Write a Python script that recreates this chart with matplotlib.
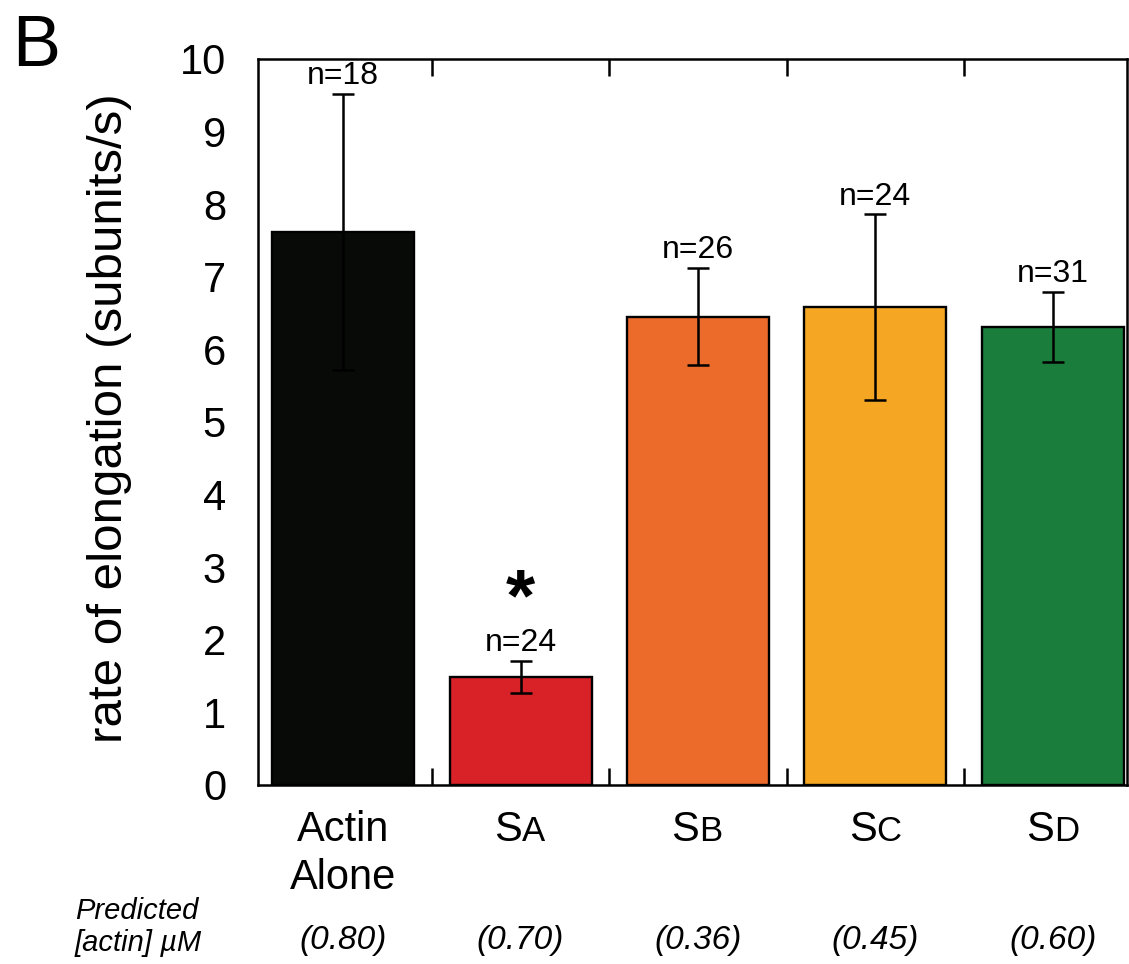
import matplotlib.pyplot as plt
import numpy as np

plt.rcParams['font.family'] = ['Liberation Sans', 'DejaVu Sans']
plt.rcParams['mathtext.fontset'] = 'custom'
plt.rcParams['mathtext.bf'] = 'Liberation Sans:bold'

label_main = ['Actin\nAlone', 'S', 'S', 'S', 'S']
label_small = ['', 'A', 'B', 'C', 'D']
rates = [7.62, 1.49, 6.45, 6.58, 6.31]
errors = [1.90, 0.22, 0.67, 1.28, 0.48]
n_counts = [18, 24, 26, 24, 31]
predicted = ['(0.80)', '(0.70)', '(0.36)', '(0.45)', '(0.60)']
colors = ['#080a08', '#d92128', '#ec6a2a', '#f5a623', '#1b7d3c']

fig = plt.figure(figsize=(11.29, 9.64), dpi=100)
ax = fig.add_axes([0.2285, 0.1857, 0.7695, 0.7531])

x = np.arange(len(rates))
ax.bar(x, rates, width=0.8, color=colors, edgecolor='black', linewidth=1.7, zorder=2)
ax.errorbar(x, rates, yerr=errors, fmt='none', ecolor='black', elinewidth=1.8,
            capsize=8, capthick=1.8, zorder=3)

for i in range(len(rates)):
    ax.annotate(f'n={n_counts[i]}', (x[i], rates[i] + errors[i]), xytext=(0, 2),
                textcoords='offset points', ha='center', va='bottom', fontsize=23)
# significance mark over SA
ax.annotate(r'$\mathbf{*}$', (x[1], rates[1] + errors[1]), xytext=(0, 44),
            textcoords='offset points', ha='center', va='center', fontsize=54)

ax.set_xlim(-0.48, 4.417)
ax.set_ylim(0, 10)

ax.set_yticks(np.arange(0, 11))
ax.set_yticklabels([str(v) for v in range(11)], fontsize=30)
ax.set_yticks([2, 4, 6, 8], minor=True)
ax.set_xticks(x)
ax.set_xticklabels([])
ax.set_xticks(x[:-1] + 0.5, minor=True)
ax.tick_params(axis='y', which='major', length=0, pad=23)
ax.tick_params(axis='x', which='major', length=0)
ax.tick_params(which='minor', direction='in', length=10, width=1.8,
               top=True, right=True, bottom=True, left=True)
ax.tick_params(axis='x', which='minor', length=12)
for s in ax.spines.values():
    s.set_linewidth(1.8)

for i in range(len(rates)):
    if label_small[i]:
        ax.annotate(label_main[i], (x[i], 0), xycoords=('data', 'axes fraction'),
                    xytext=(1, -18), textcoords='offset points', ha='right', va='top',
                    fontsize=30)
        ax.annotate(label_small[i], (x[i], 0), xycoords=('data', 'axes fraction'),
                    xytext=(1, -21.5), textcoords='offset points', ha='left', va='top',
                    fontsize=25)
    else:
        ax.annotate(label_main[i], (x[i], 0), xycoords=('data', 'axes fraction'),
                    xytext=(0, -18), textcoords='offset points', ha='center', va='top',
                    fontsize=30, linespacing=1.25)
    ax.annotate(predicted[i], (x[i], 0), xycoords=('data', 'axes fraction'),
                xytext=(0, -101), textcoords='offset points', ha='center', va='top',
                fontsize=24, style='italic')

fig.text(75 / 1129, 1 - 927 / 964, 'Predicted\n[actin] µM', ha='left', va='center',
         fontsize=21, style='italic', linespacing=1.2)
fig.text(110 / 1129, 1 - 418 / 964, 'rate of elongation (subunits/s)', rotation=90,
         ha='center', va='center', fontsize=35.5)
fig.text(12 / 1129, 1 - 48 / 964, 'B', ha='left', va='center', fontsize=52)

plt.savefig('out.png', dpi=100)
